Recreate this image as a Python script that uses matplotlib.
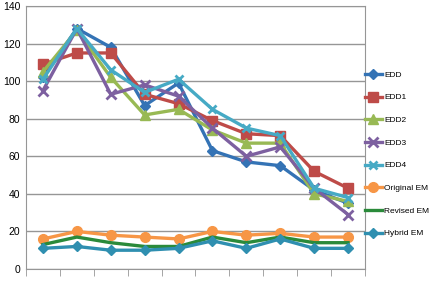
import numpy as np
import matplotlib
matplotlib.use("Agg")
import matplotlib.pyplot as plt

plt.rcParams['font.family'] = ['Liberation Sans', 'DejaVu Sans']

categories = ["10K", "20K", "30K", "40K", "50K", "100K", "150K", "200K", "250K", "300K"]

edd = [102, 128, 118, 87, 99, 63, 57, 55, 42, 35]
edd1 = [109, 115, 115, 93, 88, 79, 72, 71, 52, 43]
edd2 = [105, 127, 102, 82, 85, 74, 67, 67, 40, 36]
edd3 = [95, 128, 93, 98, 92, 75, 60, 65, 43, 29]
edd4 = [101, 128, 106, 94, 101, 85, 75, 71, 43, 38]
original_em = [16, 20, 18, 17, 16, 20, 18, 19, 17, 17]
revised_em = [13, 17, 14, 12, 12, 17, 14, 17, 14, 14]
hybrid_em = [11, 12, 10, 10, 11, 15, 11, 16, 11, 11]

series = [
    ("EDD", edd, "#3473b5", "D", 5),
    ("EDD1", edd1, "#be4b48", "s", 7),
    ("EDD2", edd2, "#98b954", "^", 7),
    ("EDD3", edd3, "#7d60a0", "x", 7),
    ("EDD4", edd4, "#46aac5", "x", 6),
    ("Original EM", original_em, "#f79646", "o", 7),
    ("Revised EM", revised_em, "#2a8a3a", None, 0),
    ("Hybrid EM", hybrid_em, "#2f8fb0", "D", 5),
]

fig = plt.figure(figsize=(4.31, 2.90), dpi=100)
ax = fig.add_axes([26 / 431, 1 - 269 / 290, (365 - 26) / 431, (269 - 6) / 290])

x = np.arange(len(categories))
handles = []
for name, vals, color, marker, ms in series:
    h, = ax.plot(x, vals, color=color, lw=2.4, marker=marker, ms=ms,
                 mew=2 if marker == "x" else 1, label=name, zorder=3)
    handles.append(h)

ax.set_xlim(-0.5, len(categories) - 0.5)
ax.set_ylim(0, 140)
ax.set_yticks(np.arange(0, 141, 20))
ax.yaxis.grid(True, color="#969696", lw=1)
ax.set_axisbelow(True)
ax.tick_params(axis="y", length=0, pad=4, labelsize=7.5)

# ticks at category boundaries, labels centred (cut off at bottom like the source)
ax.set_xticks(x)
ax.set_xticklabels(categories, fontsize=7.5)
ax.set_xticks(np.arange(-0.5, len(categories), 1), minor=True)
ax.tick_params(axis="x", which="major", length=0, pad=17)
ax.tick_params(axis="x", which="minor", length=5, color="#969696", direction="out")

for sp in ax.spines.values():
    sp.set_color("#969696")

fig.legend(handles=handles, loc="upper left", bbox_to_anchor=(365 / 431, 1 - 71 / 290),
           frameon=False, fontsize=6.0, handlelength=2.0, handletextpad=0.3,
           labelspacing=1.78, borderaxespad=0, borderpad=0)

fig.savefig("out.png", dpi=100)
